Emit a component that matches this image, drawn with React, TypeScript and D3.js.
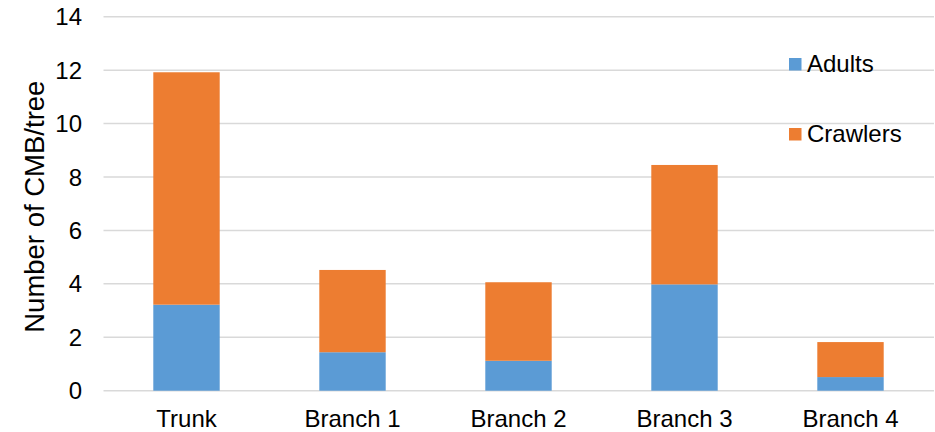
import React from "react";
import * as d3 from "d3";

const categories = ["Trunk", "Branch 1", "Branch 2", "Branch 3", "Branch 4"];
const adults = [3.22, 1.44, 1.12, 3.98, 0.51];
const crawlers = [8.7, 3.08, 2.94, 4.47, 1.31];
const seriesNames = ["Adults", "Crawlers"];
const seriesColors = ["#5B9BD5", "#ED7D31"];
const yTicks = [0, 2, 4, 6, 8, 10, 12, 14];

const W = 935;
const H = 432;
const font = "Arial, 'Liberation Sans', sans-serif";

export default function App() {
  const x = d3
    .scaleBand<string>()
    .domain(categories)
    .range([103.5, 933.5])
    .paddingInner(0.6)
    .paddingOuter(0.3);
  const y = d3.scaleLinear().domain([0, 14]).range([390.7, 16.7]);

  const rows = categories.map((c, i) => ({ cat: c, Adults: adults[i], Crawlers: crawlers[i] }));
  const stacked = d3.stack<any>().keys(seriesNames)(rows);

  return (
    <svg
      width={W}
      height={H}
      style={{ position: "absolute", left: 0, top: 0, background: "#fff" }}
      fontFamily={font}
    >
      {yTicks.map((t) => (
        <g key={t}>
          <line x1={103.5} x2={934} y1={y(t)} y2={y(t)} stroke="#d9d9d9" strokeWidth={1.5} />
          <text x={82} y={y(t)} dy="0.36em" textAnchor="end" fontSize={24} fill="#000">
            {t}
          </text>
        </g>
      ))}
      {stacked.map((s, si) => (
        <g key={s.key} fill={seriesColors[si]}>
          {s.map((d, i) => (
            <rect
              key={i}
              x={x(categories[i])}
              width={x.bandwidth()}
              y={y(d[1])}
              height={y(d[0]) - y(d[1])}
            />
          ))}
        </g>
      ))}
      {categories.map((c) => (
        <text
          key={c}
          x={(x(c) as number) + x.bandwidth() / 2}
          y={427}
          textAnchor="middle"
          fontSize={24}
          fill="#000"
        >
          {c}
        </text>
      ))}
      <text
        transform={`translate(43.5,${206.7}) rotate(-90)`}
        textAnchor="middle"
        fontSize={27.5}
        fill="#000"
      >
        Number of CMB/tree
      </text>
      {seriesNames.map((n, i) => (
        <g key={n} transform={`translate(789,${58 + i * 70})`}>
          <rect x={0} y={0} width={12.5} height={12.5} fill={seriesColors[i]} />
          <text x={18} y={13.5} fontSize={24} fill="#000">
            {n}
          </text>
        </g>
      ))}
    </svg>
  );
}
